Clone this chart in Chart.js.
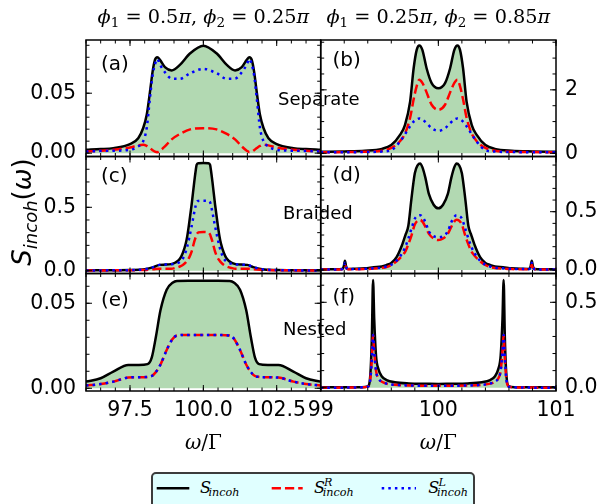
<!DOCTYPE html>
<html>
<head>
<meta charset="utf-8">
<script src="https://cdn.jsdelivr.net/npm/chart.js@4.4.1/dist/chart.umd.min.js"></script>
<style>
html,body{margin:0;padding:0;background:#fff;}
#fig{position:relative;width:598px;height:504px;overflow:hidden;background:#fff;}
#fig canvas{position:absolute;left:0;top:0;}
.t{position:absolute;white-space:nowrap;color:#000;line-height:1;}
.sans{font-family:'DejaVu Sans',sans-serif;}
.serif{font-family:'DejaVu Serif',serif;}
.title{font-family:'DejaVu Serif',serif;font-size:19.3px;text-align:center;}
.title sub{font-size:13.5px;vertical-align:-4px;line-height:0;}
.ann{font-family:'DejaVu Sans',sans-serif;font-size:18px;}
.plab{font-family:'DejaVu Sans',sans-serif;font-size:20px;}
#ylab{position:absolute;width:160px;height:30px;line-height:30px;text-align:center;font-family:'DejaVu Sans',sans-serif;font-size:26px;transform:rotate(-90deg);white-space:nowrap;}
#ylab sub{font-size:18px;vertical-align:-6px;line-height:0;font-style:italic;}
#legend{position:absolute;left:151px;top:472px;width:320px;height:44px;border:2px solid #3c3c3c;border-radius:5px;background:#e0ffff;}
.lg{position:absolute;font-family:'DejaVu Serif',serif;font-style:italic;white-space:nowrap;line-height:1;}
</style>
</head>
<body>
<div id="fig">
<canvas id="ca" width="598" height="504"></canvas>
<canvas id="cb" width="598" height="504"></canvas>
<canvas id="cc" width="598" height="504"></canvas>
<canvas id="cd" width="598" height="504"></canvas>
<canvas id="ce" width="598" height="504"></canvas>
<canvas id="cf" width="598" height="504"></canvas>

<div class="t title" style="left:86px;width:234.7px;top:7.3px;"><i>ϕ</i><sub>1</sub> = 0.5<i>π</i>, <i>ϕ</i><sub>2</sub> = 0.25<i>π</i></div>
<div class="t title" style="left:320.7px;width:235.3px;top:7.3px;"><i>ϕ</i><sub>1</sub> = 0.25<i>π</i>, <i>ϕ</i><sub>2</sub> = 0.85<i>π</i></div>

<div class="t plab" style="left:101px;top:52.7px;">(a)</div>
<div class="t plab" style="left:332.5px;top:48.5px;">(b)</div>
<div class="t plab" style="left:101px;top:164.5px;">(c)</div>
<div class="t plab" style="left:332.5px;top:163.5px;">(d)</div>
<div class="t plab" style="left:101px;top:288.5px;">(e)</div>
<div class="t plab" style="left:332.5px;top:286px;">(f)</div>

<div class="t ann" style="left:278px;top:90px;">Separate</div>
<div class="t ann" style="left:283px;top:203.5px;">Braided</div>
<div class="t ann" style="left:283px;top:320px;">Nested</div>

<div id="ylab" style="left:-58px;top:197px;"><i>S</i><sub>incoh</sub>(<i>ω</i>)</div>

<div class="t serif" style="left:86px;width:234.7px;text-align:center;top:432px;font-size:20px;"><i>ω</i>/Γ</div>
<div class="t serif" style="left:320.7px;width:235.3px;text-align:center;top:432px;font-size:20px;"><i>ω</i>/Γ</div>

<div id="legend"></div>
<svg style="position:absolute;left:0;top:0;" width="598" height="504">
<line x1="156.7" y1="488.3" x2="189.3" y2="488.3" stroke="#000" stroke-width="2.5"/>
<line x1="271.7" y1="488.3" x2="302.7" y2="488.3" stroke="#ff0000" stroke-width="2.5" stroke-dasharray="9.25 4"/>
<line x1="381.7" y1="488.3" x2="416" y2="488.3" stroke="#0000ff" stroke-width="2.5" stroke-dasharray="2.5 4.1"/>
</svg>
<div class="lg" style="left:200px;top:479.8px;font-size:16px;">S</div>
<div class="lg" style="left:208.5px;top:486.5px;font-size:11.2px;">incoh</div>
<div class="lg" style="left:314px;top:479.8px;font-size:16px;">S</div>
<div class="lg" style="left:324px;top:476.5px;font-size:11.2px;">R</div>
<div class="lg" style="left:322.7px;top:486.5px;font-size:11.2px;">incoh</div>
<div class="lg" style="left:428.3px;top:479.8px;font-size:16px;">S</div>
<div class="lg" style="left:438.5px;top:476.5px;font-size:11.2px;">L</div>
<div class="lg" style="left:437px;top:486.5px;font-size:11.2px;">incoh</div>
</div>

<script>
// ---------- tick values / labels ----------
const xTicksLeft = [97.5, 100, 102.5];
const xTickLabelsLeft = ['97.5', '100.0', '102.5'];
const xTicksRight = [99, 100, 101];
const xTickLabelsRight = ['99', '100', '101'];
const yTicksA = [0, 0.05];  const yTickLabelsA = ['0.00', '0.05'];
const yTicksB = [0, 2];     const yTickLabelsB = ['0', '2'];
const yTicksC = [0, 0.5];   const yTickLabelsC = ['0.0', '0.5'];
const yTicksD = [0, 0.5];   const yTickLabelsD = ['0.0', '0.5'];
const yTicksE = [0, 0.05];  const yTickLabelsE = ['0.00', '0.05'];
const yTicksF = [0, 0.5];   const yTickLabelsF = ['0.0', '0.5'];

// ---------- (a) Separate, phi1=0.5pi, phi2=0.25pi ----------
const aX = [96.0, 96.5, 96.93, 97.5, 97.78, 97.95, 98.07, 98.18, 98.27, 98.35, 98.43, 98.52, 98.69, 98.92, 99.2, 99.55, 100.0,
            100.45, 100.8, 101.08, 101.31, 101.48, 101.57, 101.65, 101.73, 101.82, 101.93, 102.05, 102.22, 102.5, 103.07, 103.5, 104.0];
const aTotal = [0.0028, 0.0034, 0.0042, 0.0075, 0.0125, 0.021, 0.032, 0.051, 0.068, 0.0778, 0.0800, 0.0778, 0.0717, 0.0690, 0.0736, 0.0833, 0.0897,
                0.0833, 0.0736, 0.0690, 0.0717, 0.0778, 0.0800, 0.0778, 0.068, 0.051, 0.032, 0.021, 0.0125, 0.0075, 0.0042, 0.0034, 0.0028];
const aR = [0.0014, 0.0020, 0.0028, 0.0047, 0.0065, 0.0070, 0.0060, 0.0042, 0.0025, 0.0012, 0.0008, 0.0020, 0.0056, 0.0115, 0.0160, 0.0198, 0.0208,
            0.0198, 0.0160, 0.0115, 0.0056, 0.0020, 0.0008, 0.0012, 0.0025, 0.0042, 0.0060, 0.0070, 0.0065, 0.0047, 0.0028, 0.0020, 0.0014];
const aL = [0.0014, 0.0018, 0.0020, 0.0028, 0.0056, 0.0100, 0.021, 0.046, 0.065, 0.074, 0.0786, 0.074, 0.0675, 0.0622, 0.0620, 0.0667, 0.0703,
            0.0667, 0.0620, 0.0622, 0.0675, 0.074, 0.0786, 0.074, 0.065, 0.046, 0.021, 0.0100, 0.0056, 0.0028, 0.0020, 0.0018, 0.0014];

// ---------- (b) Separate, phi1=0.25pi, phi2=0.85pi ----------
const bX = [99.0, 99.2, 99.376, 99.52, 99.60, 99.674, 99.716, 99.76, 99.79, 99.816, 99.838, 99.864, 99.90, 99.943, 100.0,
            100.057, 100.10, 100.136, 100.162, 100.184, 100.21, 100.24, 100.284, 100.326, 100.40, 100.48, 100.624, 100.8, 101.0];
const bTotal = [0.05, 0.06, 0.08, 0.14, 0.26, 0.58, 0.89, 1.63, 2.68, 3.26, 3.40, 3.26, 2.68, 2.21, 2.05,
                2.21, 2.68, 3.26, 3.40, 3.26, 2.68, 1.63, 0.89, 0.58, 0.26, 0.14, 0.08, 0.06, 0.05];
const bR = [0.03, 0.04, 0.05, 0.08, 0.17, 0.38, 0.62, 1.12, 1.70, 2.12, 2.32, 2.22, 1.92, 1.53, 1.37,
            1.53, 1.92, 2.22, 2.32, 2.12, 1.70, 1.12, 0.62, 0.38, 0.17, 0.08, 0.05, 0.04, 0.03];
const bL = [0.03, 0.035, 0.04, 0.055, 0.10, 0.37, 0.60, 0.85, 1.00, 1.07, 1.10, 1.07, 0.95, 0.79, 0.71,
            0.79, 0.95, 1.07, 1.10, 1.07, 1.00, 0.85, 0.60, 0.37, 0.10, 0.055, 0.04, 0.035, 0.03];

// ---------- (c) Braided, left ----------
const cX = [96.0, 96.5, 97.0, 97.5, 98.0, 98.3, 98.5, 98.7, 98.9, 99.05, 99.2, 99.3, 99.4, 99.45, 99.52, 99.6, 99.69, 99.74, 99.77, 99.83, 100.0,
            100.17, 100.23, 100.26, 100.31, 100.4, 100.48, 100.55, 100.6, 100.7, 100.8, 100.95, 101.1, 101.3, 101.5, 101.7, 102.0, 102.5, 103.0, 103.5, 104.0];
const cTotal = [0.003, 0.0035, 0.004, 0.005, 0.011, 0.028, 0.046, 0.048, 0.052, 0.065, 0.095, 0.14, 0.215, 0.27, 0.38, 0.52, 0.70, 0.79, 0.835, 0.848, 0.850,
                0.848, 0.835, 0.79, 0.70, 0.52, 0.38, 0.27, 0.215, 0.14, 0.095, 0.065, 0.052, 0.048, 0.046, 0.028, 0.011, 0.005, 0.004, 0.0035, 0.003];
const cR = [0.002, 0.002, 0.003, 0.004, 0.006, 0.012, 0.016, 0.015, 0.015, 0.022, 0.033, 0.045, 0.065, 0.08, 0.105, 0.15, 0.23, 0.265, 0.285, 0.302, 0.306,
            0.302, 0.285, 0.265, 0.23, 0.15, 0.105, 0.08, 0.065, 0.045, 0.033, 0.022, 0.015, 0.015, 0.016, 0.012, 0.006, 0.004, 0.003, 0.002, 0.002];
const cL = [0.002, 0.0025, 0.003, 0.005, 0.011, 0.028, 0.046, 0.048, 0.050, 0.055, 0.070, 0.095, 0.15, 0.19, 0.26, 0.35, 0.46, 0.515, 0.54, 0.55, 0.552,
            0.55, 0.54, 0.515, 0.46, 0.35, 0.26, 0.19, 0.15, 0.095, 0.070, 0.055, 0.050, 0.048, 0.046, 0.028, 0.011, 0.005, 0.003, 0.0025, 0.002];

// ---------- (d) Braided, right ----------
const dX = [99.0, 99.12, 99.18, 99.196, 99.206, 99.216, 99.232, 99.29, 99.376, 99.45, 99.52, 99.56, 99.6, 99.645, 99.69, 99.72, 99.745, 99.77, 99.80, 99.825, 99.845, 99.865, 99.89, 99.92, 99.96,
            100.0,
            100.04, 100.08, 100.11, 100.135, 100.155, 100.175, 100.20, 100.23, 100.255, 100.28, 100.31, 100.355, 100.40, 100.44, 100.48, 100.55, 100.624, 100.71, 100.768, 100.784, 100.794, 100.804, 100.82, 100.88, 101.0];
const dTotal = [0.006, 0.007, 0.009, 0.03, 0.08, 0.03, 0.009, 0.010, 0.014, 0.023, 0.030, 0.043, 0.060, 0.110, 0.21, 0.30, 0.38, 0.60, 0.83, 0.90, 0.914, 0.88, 0.79, 0.65, 0.56,
                0.529,
                0.56, 0.65, 0.79, 0.88, 0.914, 0.90, 0.83, 0.60, 0.38, 0.30, 0.21, 0.110, 0.060, 0.043, 0.030, 0.023, 0.014, 0.010, 0.009, 0.03, 0.08, 0.03, 0.009, 0.007, 0.006];
const dR = [0.004, 0.004, 0.006, 0.018, 0.043, 0.018, 0.006, 0.006, 0.008, 0.012, 0.018, 0.025, 0.043, 0.075, 0.12, 0.16, 0.22, 0.29, 0.39, 0.425, 0.43, 0.415, 0.37, 0.31, 0.27,
            0.257,
            0.27, 0.31, 0.37, 0.415, 0.43, 0.425, 0.39, 0.29, 0.22, 0.16, 0.12, 0.075, 0.043, 0.025, 0.018, 0.012, 0.008, 0.006, 0.006, 0.018, 0.043, 0.018, 0.006, 0.004, 0.004];
const dL = [0.005, 0.005, 0.007, 0.025, 0.063, 0.025, 0.007, 0.008, 0.010, 0.014, 0.020, 0.030, 0.045, 0.080, 0.14, 0.20, 0.27, 0.35, 0.44, 0.465, 0.47, 0.455, 0.41, 0.33, 0.29,
            0.28,
            0.29, 0.33, 0.41, 0.455, 0.47, 0.465, 0.44, 0.35, 0.27, 0.20, 0.14, 0.080, 0.045, 0.030, 0.020, 0.014, 0.010, 0.008, 0.007, 0.025, 0.063, 0.025, 0.007, 0.005, 0.005];

// ---------- (e) Nested, left ----------
const eX = [96.0, 96.5, 96.93, 97.44, 97.8, 98.1, 98.24, 98.38, 98.54, 98.75, 98.95, 99.1, 99.5, 100.0,
            100.5, 100.9, 101.05, 101.25, 101.46, 101.62, 101.76, 101.9, 102.2, 102.56, 103.07, 103.5, 104.0];
const eTotal = [0.0039, 0.0059, 0.0098, 0.0137, 0.0137, 0.0142, 0.018, 0.030, 0.046, 0.058, 0.062, 0.0631, 0.0632, 0.0632,
                0.0632, 0.0631, 0.062, 0.058, 0.046, 0.030, 0.018, 0.0142, 0.0137, 0.0137, 0.0098, 0.0059, 0.0039];
const eR = [0.0016, 0.0025, 0.0039, 0.0063, 0.0065, 0.0067, 0.0072, 0.0095, 0.014, 0.0225, 0.029, 0.031, 0.0314, 0.0314,
            0.0314, 0.031, 0.029, 0.0225, 0.014, 0.0095, 0.0072, 0.0067, 0.0065, 0.0063, 0.0039, 0.0025, 0.0016];
const eL = [0.0016, 0.0025, 0.0039, 0.0063, 0.0065, 0.0067, 0.0072, 0.0095, 0.014, 0.0225, 0.029, 0.031, 0.0314, 0.0314,
            0.0314, 0.031, 0.029, 0.0225, 0.014, 0.0095, 0.0072, 0.0067, 0.0065, 0.0063, 0.0039, 0.0025, 0.0016];

// ---------- (f) Nested, right ----------
const fX = [99.0, 99.2, 99.35, 99.40, 99.42, 99.435, 99.445, 99.455, 99.47, 99.49, 99.52, 99.56, 99.63, 99.75, 99.9, 100.0,
            100.1, 100.25, 100.37, 100.44, 100.48, 100.51, 100.53, 100.545, 100.555, 100.565, 100.58, 100.60, 100.65, 100.8, 101.0];
const fTotal = [0.002, 0.002, 0.003, 0.008, 0.06, 0.30, 0.631, 0.40, 0.19, 0.11, 0.066, 0.045, 0.032, 0.025, 0.023, 0.022,
                0.023, 0.025, 0.032, 0.045, 0.066, 0.11, 0.19, 0.40, 0.631, 0.30, 0.06, 0.008, 0.003, 0.002, 0.002];
const fR = [0.000, 0.0005, 0.002, 0.006, 0.04, 0.17, 0.309, 0.21, 0.10, 0.055, 0.035, 0.024, 0.017, 0.013, 0.012, 0.012,
            0.012, 0.013, 0.017, 0.024, 0.035, 0.055, 0.10, 0.21, 0.309, 0.17, 0.04, 0.006, 0.002, 0.0005, 0.000];
const fL = [0.000, 0.0005, 0.002, 0.006, 0.04, 0.17, 0.309, 0.21, 0.10, 0.055, 0.035, 0.024, 0.017, 0.013, 0.012, 0.012,
            0.012, 0.013, 0.017, 0.024, 0.035, 0.055, 0.10, 0.21, 0.309, 0.17, 0.04, 0.006, 0.002, 0.0005, 0.000];

// ---------- layout ----------
const FIG_W = 598, FIG_H = 504;
const COLS = [{left: 86, right: 320.7}, {left: 320.7, right: 556}];
const ROWS = [{top: 40, bottom: 156.5}, {top: 156.5, bottom: 273.5}, {top: 273.5, bottom: 391}];
const YAXIS_W = [60, 42];
const XAXIS_H = 30;
const TICK_FONT = 20.5;

Chart.defaults.font.family = "'DejaVu Sans', sans-serif";
Chart.defaults.color = '#000';

const frameTicks = {
  id: 'frameTicks',
  afterDraw(chart, args, o) {
    const ctx = chart.ctx, a = chart.chartArea, xs = chart.scales.x, ys = chart.scales.y;
    ctx.save();
    ctx.strokeStyle = '#000';
    ctx.lineWidth = 1;
    ctx.beginPath();
    const xTick = (v, len) => { const p = xs.getPixelForValue(v);
      ctx.moveTo(p, a.bottom); ctx.lineTo(p, a.bottom - len);
      ctx.moveTo(p, a.top); ctx.lineTo(p, a.top + len); };
    const yTick = (v, len) => { const p = ys.getPixelForValue(v);
      ctx.moveTo(a.left, p); ctx.lineTo(a.left + len, p);
      ctx.moveTo(a.right, p); ctx.lineTo(a.right - len, p); };
    const minors = (min, max, step, fn) => {
      for (let k = Math.ceil(min / step - 1e-9); k <= Math.floor(max / step + 1e-9); k++) fn(k * step, 3.5);
    };
    minors(xs.min, xs.max, o.xMinor, xTick);
    minors(ys.min, ys.max, o.yMinor, yTick);
    o.xMajor.forEach(v => xTick(v, 6));
    o.yMajor.forEach(v => yTick(v, 6));
    ctx.stroke();
    ctx.lineWidth = 1.5;
    ctx.strokeRect(a.left, a.top, a.right - a.left, a.bottom - a.top);
    ctx.restore();
  }
};

function makePanel(p) {
  const col = COLS[p.col], row = ROWS[p.row];
  const pts = arr => p.x.map((x, i) => ({x: x, y: arr[i]}));
  const yRight = p.col === 1;
  const padding = {
    top: row.top,
    bottom: FIG_H - row.bottom - XAXIS_H,
    left: yRight ? col.left : col.left - YAXIS_W[0],
    right: yRight ? FIG_W - col.right - YAXIS_W[1] : FIG_W - col.right
  };
  new Chart(document.getElementById(p.id), {
    type: 'line',
    data: {
      datasets: [
        {data: pts(p.l), borderColor: '#0000ff', borderWidth: 2.5, borderDash: [2.5, 4.1], fill: false, order: 1},
        {data: pts(p.r), borderColor: '#ff0000', borderWidth: 2.5, borderDash: [9.25, 4], fill: false, order: 2},
        {data: pts(p.tot), borderColor: '#000000', borderWidth: 2.5, fill: 'origin', backgroundColor: 'rgba(0,128,0,0.3)', order: 3}
      ]
    },
    options: {
      responsive: false,
      animation: false,
      events: [],
      layout: {padding: padding},
      elements: {
        point: {radius: 0},
        line: {cubicInterpolationMode: 'monotone', borderCapStyle: 'butt', borderJoinStyle: 'round'}
      },
      plugins: {
        legend: {display: false},
        tooltip: {enabled: false},
        frameTicks: {xMajor: p.xt, yMajor: p.yt, xMinor: p.xMinor, yMinor: p.yMinor}
      },
      scales: {
        x: {
          type: 'linear', position: 'bottom', min: p.xr[0], max: p.xr[1],
          grid: {display: false, drawTicks: false}, border: {display: false},
          ticks: {display: p.showX, font: {size: TICK_FONT}, color: '#000', padding: 7, autoSkip: false, maxRotation: 0,
                  callback: (v, i) => p.xlab[i]},
          afterBuildTicks: s => { s.ticks = p.xt.map(v => ({value: v})); },
          afterFit: s => { s.height = XAXIS_H; }
        },
        y: {
          type: 'linear', position: yRight ? 'right' : 'left', min: p.yr[0], max: p.yr[1],
          grid: {display: false, drawTicks: false}, border: {display: false},
          ticks: {font: {size: TICK_FONT}, color: '#000', padding: yRight ? 9 : 10, autoSkip: false,
                  callback: (v, i) => p.ylab[i]},
          afterBuildTicks: s => { s.ticks = p.yt.map(v => ({value: v})); },
          afterFit: s => { s.width = YAXIS_W[p.col]; }
        }
      }
    },
    plugins: [frameTicks]
  });
}

makePanel({id: 'ca', col: 0, row: 0, x: aX, tot: aTotal, r: aR, l: aL, xr: [96, 104], yr: [-0.0028, 0.0944],
           xt: xTicksLeft, xlab: xTickLabelsLeft, yt: yTicksA, ylab: yTickLabelsA, xMinor: 0.5, yMinor: 0.01, showX: false});
makePanel({id: 'cb', col: 1, row: 0, x: bX, tot: bTotal, r: bR, l: bL, xr: [99, 101], yr: [-0.10, 3.57],
           xt: xTicksRight, xlab: xTickLabelsRight, yt: yTicksB, ylab: yTickLabelsB, xMinor: 0.2, yMinor: 0.5, showX: false});
makePanel({id: 'cc', col: 0, row: 1, x: cX, tot: cTotal, r: cR, l: cL, xr: [96, 104], yr: [-0.022, 0.9006],
           xt: xTicksLeft, xlab: xTickLabelsLeft, yt: yTicksC, ylab: yTickLabelsC, xMinor: 0.5, yMinor: 0.1, showX: false});
makePanel({id: 'cd', col: 1, row: 1, x: dX, tot: dTotal, r: dR, l: dL, xr: [99, 101], yr: [-0.030, 0.9734],
           xt: xTicksRight, xlab: xTickLabelsRight, yt: yTicksD, ylab: yTickLabelsD, xMinor: 0.2, yMinor: 0.1, showX: false});
makePanel({id: 'ce', col: 0, row: 2, x: eX, tot: eTotal, r: eR, l: eL, xr: [96, 104], yr: [-0.0016, 0.0675],
           xt: xTicksLeft, xlab: xTickLabelsLeft, yt: yTicksE, ylab: yTickLabelsE, xMinor: 0.5, yMinor: 0.01, showX: true});
makePanel({id: 'cf', col: 1, row: 2, x: fX, tot: fTotal, r: fR, l: fL, xr: [99, 101], yr: [-0.0193, 0.6686],
           xt: xTicksRight, xlab: xTickLabelsRight, yt: yTicksF, ylab: yTickLabelsF, xMinor: 0.2, yMinor: 0.1, showX: true});
</script>
</body>
</html>
